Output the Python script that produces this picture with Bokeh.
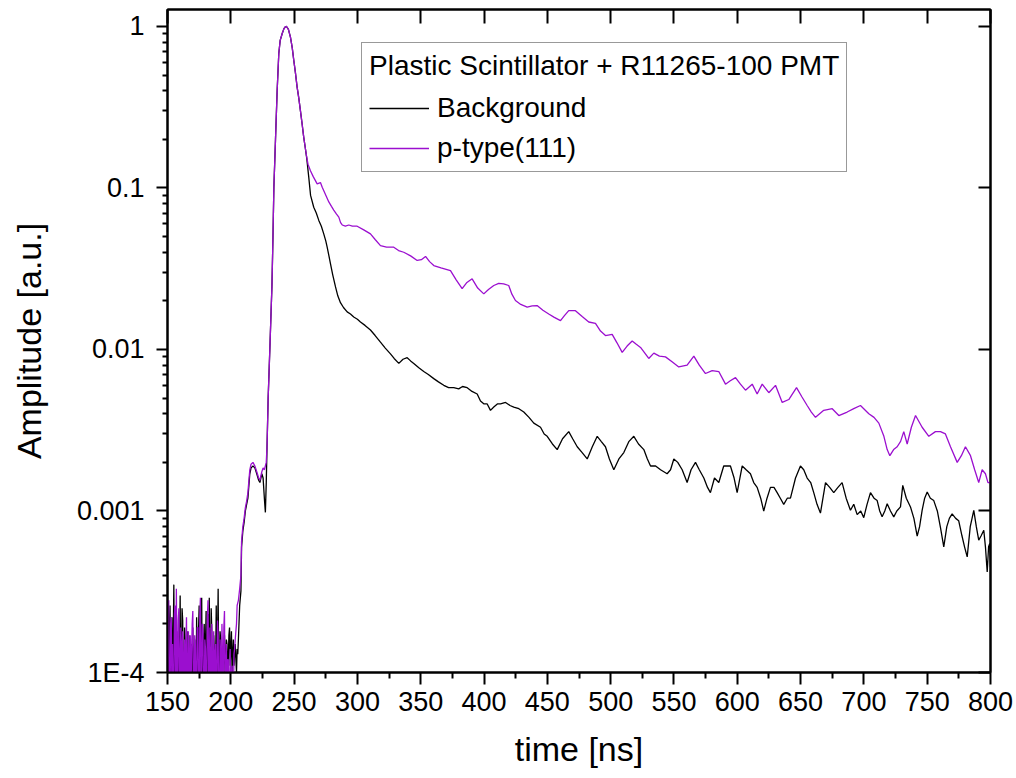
from bokeh.plotting import figure
from bokeh.models import (Range1d, FixedTicker, LinearAxis, LogAxis, Legend,
                          LegendItem, CustomJSTickFormatter)
from bokeh.embed import file_html
from bokeh.resources import INLINE

# ---------------- data ----------------
# pre-trigger noise, one sample every 0.5 ns, 150.0..205.5 ns
noise_t = [150 + 0.5 * i for i in range(112)]
bg_noise = [2.0e-4, 0.6e-4, 0.7e-4, 1.9e-4, 2.6e-4, 0.8e-4, 1.1e-4, 2.2e-4, 0.6e-4, 1.5e-4,
            3.5e-4, 0.9e-4, 0.8e-4, 2.0e-4, 2.4e-4, 0.6e-4, 1.2e-4, 1.8e-4, 0.5e-4, 1.4e-4,
            3.0e-4, 0.7e-4, 1.0e-4, 2.5e-4, 2.1e-4, 0.5e-4, 0.6e-4, 1.9e-4, 1.6e-4, 0.8e-4,
            1.3e-4, 1.8e-4, 0.7e-4, 1.2e-4, 1.7e-4, 0.6e-4, 1.1e-4, 1.5e-4, 0.8e-4, 1.3e-4,
            1.9e-4, 0.7e-4, 1.2e-4, 1.6e-4, 0.9e-4, 0.6e-4, 2.2e-4, 1.0e-4, 0.6e-4, 1.8e-4,
            2.6e-4, 0.8e-4, 1.4e-4, 2.1e-4, 2.9e-4, 0.7e-4, 0.7e-4, 1.6e-4, 2.0e-4, 0.9e-4,
            1.5e-4, 2.4e-4, 0.5e-4, 1.2e-4, 2.3e-4, 1.1e-4, 2.9e-4, 0.6e-4, 0.9e-4, 2.5e-4,
            1.8e-4, 0.7e-4, 0.6e-4, 1.7e-4, 1.4e-4, 0.6e-4, 1.1e-4, 2.6e-4, 0.7e-4, 1.5e-4,
            3.3e-4, 0.8e-4, 1.0e-4, 1.8e-4, 1.6e-4, 0.7e-4, 0.8e-4, 1.4e-4, 1.3e-4, 0.9e-4,
            1.7e-4, 1.2e-4, 1.1e-4, 1.6e-4, 1.5e-4, 1.0e-4, 1.2e-4, 1.7e-4, 1.9e-4, 1.1e-4,
            1.4e-4, 1.8e-4, 1.0e-4, 1.3e-4, 1.6e-4, 1.1e-4, 1.3e-4, 1.5e-4, 1.2e-4, 1.0e-4,
            1.4e-4, 1.3e-4]
pt_noise = [0.8e-4, 2.4e-4, 2.8e-4, 0.6e-4, 0.6e-4, 2.0e-4, 2.2e-4, 0.7e-4, 1.5e-4, 0.6e-4,
            0.7e-4, 2.3e-4, 2.6e-4, 0.8e-4, 3.3e-4, 1.0e-4, 0.9e-4, 2.1e-4, 2.5e-4, 0.6e-4,
            1.1e-4, 1.9e-4, 0.6e-4, 1.5e-4, 1.8e-4, 0.7e-4, 1.2e-4, 1.6e-4, 0.7e-4, 1.4e-4,
            2.2e-4, 0.6e-4, 1.0e-4, 1.8e-4, 0.6e-4, 1.3e-4, 1.7e-4, 0.7e-4, 1.3e-4, 2.0e-4,
            2.4e-4, 0.6e-4, 0.7e-4, 1.7e-4, 1.5e-4, 0.6e-4, 0.9e-4, 1.9e-4, 1.9e-4, 0.7e-4,
            0.6e-4, 2.2e-4, 2.9e-4, 0.8e-4, 1.1e-4, 2.0e-4, 1.8e-4, 0.6e-4, 0.7e-4, 1.6e-4,
            1.4e-4, 0.7e-4, 0.9e-4, 2.2e-4, 2.8e-4, 0.9e-4, 1.2e-4, 1.9e-4, 0.6e-4, 1.2e-4,
            2.0e-4, 0.6e-4, 1.1e-4, 1.8e-4, 0.7e-4, 1.3e-4, 1.5e-4, 0.6e-4, 0.9e-4, 2.1e-4,
            1.7e-4, 0.6e-4, 0.6e-4, 1.6e-4, 1.3e-4, 0.7e-4, 2.0e-4, 1.2e-4, 0.8e-4, 1.9e-4,
            2.4e-4, 0.7e-4, 1.0e-4, 1.5e-4, 0.6e-4, 1.2e-4, 1.2e-4, 0.6e-4, 0.7e-4, 1.4e-4,
            0.5e-4, 1.0e-4, 1.1e-4, 0.6e-4, 0.6e-4, 1.3e-4, 1.4e-4, 1.6e-4, 1.8e-4, 2.0e-4,
            2.6e-4, 2.7e-4]

# onset and small pre-pulse
rise_t = [206, 207, 208, 208.5, 209.5, 210.5, 211.5, 212.5, 213.5, 215,
          216, 217.5, 219, 220.5, 222, 223, 224.5, 225.5, 226.5, 227.3,
          228, 228.6]
bg_rise = [1.6e-4, 2.6e-4, 3.2e-4, 6.0e-4, 7.5e-4, 8.5e-4, 1.0e-3, 1.1e-3, 1.2e-3, 1.7e-3,
           1.85e-3, 1.9e-3, 1.85e-3, 1.7e-3, 1.55e-3, 1.5e-3, 1.7e-3, 1.6e-3, 1.2e-3, 0.98e-3,
           1.5e-3, 2.5e-3]
pt_rise = [2.8e-4, 3.3e-4, 4.0e-4, 6.5e-4, 8.0e-4, 9.0e-4, 1.05e-3, 1.15e-3, 1.3e-3, 1.8e-3,
           1.95e-3, 2.0e-3, 1.9e-3, 1.75e-3, 1.6e-3, 1.55e-3, 1.75e-3, 1.85e-3, 1.8e-3, 1.9e-3,
           2.0e-3, 2.5e-3]

# main pulse (both traces coincide)
peak_t = [229.5, 231, 232.5, 233.3, 234, 235.3, 236.6, 237.9, 239, 240.6,
          242, 243, 244, 245.5, 247.1, 248.5, 249.7, 251, 252.4, 253.7,
          255, 256.3, 257.6, 258.7]
peak_amp = [0.005, 0.011, 0.025, 0.05, 0.1, 0.2, 0.40, 0.68, 0.82, 0.905,
            0.97, 0.995, 1.0, 0.96, 0.86, 0.74, 0.62, 0.52, 0.42, 0.36,
            0.30, 0.25, 0.206, 0.18]

# Background tail
bg_tail_t = [260.0, 261.5, 263.0, 265.5, 267.5, 269.5, 271.5, 273.4, 275.0, 276.1,
             277.5, 278.7, 280.5, 282.7, 284.5, 286.6, 289.0, 291.9, 294.5, 297.1,
             300.0, 302.4, 306.0, 310.3, 314.0, 318.2, 322.0, 326.1, 329.0, 332.7,
             336.0, 339.3, 342.0, 344.5, 348.5, 352.4, 356.0, 360.3, 364.0, 368.2,
             372.0, 376.1, 380.0, 383.0, 386.7, 390.5, 394.6, 397.2, 400.0, 402.5,
             405.1, 407.7, 410.5, 413.0, 417.0, 420.5, 423.5, 427.5, 431.4, 435.5,
             439.3, 444.6, 447.5, 449.9, 454.0, 457.8, 462.0, 466.9, 470.0, 473.6,
             477.5, 481.5, 485.5, 489.4, 492.5, 495.9, 499.0, 502.5, 506.5, 510.4,
             514.5, 518.3, 522.0, 526.2, 529.0, 531.5, 535.5, 539.4, 544.6, 547.3,
             549.9, 553.0, 556.5, 560.4, 563.5, 567.0, 570.0, 573.6, 576.5, 578.8,
             582.0, 585.4, 589.3, 594.6, 597.5, 599.9, 603.9, 607.0, 610.4, 613.0,
             615.7, 618.5, 620.9, 623.5, 626.2, 629.0, 631.5, 634.0, 636.7, 639.5,
             642.0, 646.0, 649.9, 652.5, 655.2, 658.0, 660.4, 663.0, 665.7, 669.7,
             673.0, 676.2, 679.5, 682.8, 686.0, 689.4, 692.0, 694.7, 697.5, 699.9,
             702.5, 705.2, 708.0, 710.5, 712.5, 714.4, 716.5, 718.4, 721.0, 723.6,
             726.0, 728.9, 730.7, 733.5, 736.8, 739.5, 742.1, 744.0, 746.0, 748.0,
             750.0, 752.5, 755.2, 758.0, 760.5, 763.1, 765.5, 767.5, 769.7, 772.5,
             774.9, 777.5, 779.5, 781.6, 784.0, 786.8, 788.8, 790.7, 792.5, 794.7,
             796.0, 797.4, 798.5, 799.4, 800.0]
bg_tail = [0.152, 0.118, 0.090, 0.076, 0.070, 0.063, 0.058, 0.052, 0.047, 0.043,
           0.038, 0.034, 0.029, 0.0244, 0.0215, 0.0195, 0.0182, 0.0171, 0.0166, 0.0159,
           0.0154, 0.0148, 0.0141, 0.0132, 0.0122, 0.0111, 0.0102, 0.0094, 0.0088, 0.0082,
           0.0087, 0.0089, 0.0085, 0.0082, 0.0077, 0.0073, 0.0070, 0.0066, 0.0063, 0.0060,
           0.0058, 0.0058, 0.0057, 0.0059, 0.0058, 0.0055, 0.0053, 0.0048, 0.0046, 0.0046,
           0.0042, 0.0044, 0.0046, 0.0046, 0.0047, 0.0045, 0.0044, 0.0043, 0.0041, 0.0038,
           0.0035, 0.0033, 0.0030, 0.0029, 0.0026, 0.0024, 0.0028, 0.0031, 0.0028, 0.0025,
           0.0023, 0.0021, 0.0025, 0.0029, 0.0027, 0.0025, 0.0021, 0.0018, 0.0021, 0.0023,
           0.0027, 0.0029, 0.0026, 0.0024, 0.0021, 0.0019, 0.0019, 0.0018, 0.0017, 0.0018,
           0.0021, 0.0020, 0.0018, 0.0015, 0.0018, 0.0020, 0.0018, 0.0016, 0.0014, 0.0013,
           0.0016, 0.0015, 0.0019, 0.0019, 0.0016, 0.0013, 0.0019, 0.0018, 0.0017, 0.0015,
           0.0014, 0.0012, 0.0010, 0.0012, 0.0014, 0.0014, 0.0013, 0.0012, 0.0011, 0.0012,
           0.0012, 0.0016, 0.0019, 0.0018, 0.0016, 0.0015, 0.0013, 0.0011, 0.00097, 0.0015,
           0.0014, 0.0013, 0.0014, 0.0015, 0.0012, 0.00101, 0.0011, 0.00095, 0.0010, 0.00091,
           0.0011, 0.0013, 0.0012, 0.00116, 0.0010, 0.00092, 0.0010, 0.00111, 0.0010, 0.00092,
           0.0010, 0.00106, 0.00144, 0.0012, 0.00106, 0.0009, 0.00070, 0.0008, 0.00101, 0.0012,
           0.00131, 0.0012, 0.00116, 0.0010, 0.00079, 0.00060, 0.0008, 0.0009, 0.00096, 0.0009,
           0.00087, 0.0007, 0.0006, 0.00052, 0.0008, 0.00101, 0.0008, 0.00066, 0.0007, 0.00076,
           0.0006, 0.00042, 0.0006, 0.00063, 0.00045]

# p-type(111) tail
pt_tail_t = [259.8, 261.0, 262.9, 265.0, 268.2, 270.8, 272.2, 274.5, 277.4, 279.5,
             281.3, 283.5, 285.3, 286.7, 288.0, 290.5, 293.2, 296.0, 299.8, 305.0,
             310.3, 314.0, 318.2, 323.0, 328.7, 332.5, 336.6, 342.0, 347.2, 350.5,
             353.8, 357.0, 360.3, 366.0, 373.5, 378.0, 382.7, 386.5, 390.6, 395.0,
             399.8, 403.5, 407.7, 411.6, 415.5, 419.5, 422.0, 424.8, 429.0, 434.1,
             438.0, 441.9, 446.5, 451.1, 455.5, 460.4, 463.5, 466.9, 472.2, 477.5,
             482.7, 488.0, 492.0, 495.9, 501.2, 505.0, 509.1, 513.0, 517.0, 520.0,
             523.6, 527.0, 530.1, 534.1, 538.5, 543.3, 548.5, 553.8, 560.4, 565.7,
             570.0, 574.9, 580.2, 585.4, 590.7, 594.5, 598.6, 602.5, 606.5, 611.8,
             615.7, 619.7, 624.9, 630.2, 635.5, 640.7, 646.8, 651.0, 655.2, 658.5,
             661.8, 668.3, 675.0, 680.2, 686.8, 692.0, 697.3, 703.9, 708.0, 711.8,
             715.8, 718.4, 720.5, 723.5, 726.3, 729.0, 731.5, 734.2, 737.5, 740.8,
             746.0, 751.3, 756.5, 760.5, 764.4, 768.4, 773.7, 777.0, 780.2, 784.2,
             787.5, 790.7, 793.4, 796.0, 798.0, 800.0]
pt_tail = [0.158, 0.140, 0.128, 0.118, 0.106, 0.108, 0.101, 0.092, 0.082, 0.077,
           0.073, 0.069, 0.066, 0.061, 0.059, 0.058, 0.059, 0.058, 0.058, 0.055,
           0.052, 0.048, 0.044, 0.043, 0.043, 0.041, 0.040, 0.038, 0.0356, 0.036,
           0.0377, 0.035, 0.0331, 0.032, 0.0308, 0.027, 0.0238, 0.026, 0.0274, 0.024,
           0.0221, 0.0235, 0.0249, 0.0257, 0.0255, 0.0249, 0.022, 0.0201, 0.019, 0.0183,
           0.0186, 0.0187, 0.0175, 0.0166, 0.0158, 0.0151, 0.0162, 0.0174, 0.0174, 0.016,
           0.0148, 0.0145, 0.013, 0.0122, 0.0124, 0.011, 0.0096, 0.0105, 0.0113, 0.0108,
           0.0103, 0.0095, 0.0088, 0.0095, 0.0091, 0.0090, 0.0084, 0.0078, 0.0080, 0.0091,
           0.0080, 0.0071, 0.0074, 0.0073, 0.0061, 0.0064, 0.0067, 0.0061, 0.0056, 0.0061,
           0.0053, 0.0061, 0.0054, 0.0060, 0.0047, 0.0049, 0.0058, 0.0051, 0.0045, 0.0041,
           0.0038, 0.0042, 0.0043, 0.0039, 0.0041, 0.0043, 0.0045, 0.0040, 0.0038, 0.0035,
           0.0029, 0.0024, 0.0022, 0.0024, 0.0025, 0.0027, 0.0031, 0.0026, 0.0033, 0.0039,
           0.0033, 0.0029, 0.0031, 0.0031, 0.0030, 0.0025, 0.0020, 0.0022, 0.0025, 0.0022,
           0.0018, 0.0015, 0.0018, 0.0017, 0.0015, 0.0015]

x_major = list(range(150, 801, 50))
x_minor = list(range(175, 800, 50))
y_major = [1e-4, 1e-3, 1e-2, 1e-1, 1.0]
y_minor = [k * d for d in (1e-4, 1e-3, 1e-2, 1e-1) for k in range(2, 10)]

legend_title = "Plastic Scintillator + R11265-100 PMT"
series_names = ["Background", "p-type(111)"]
series_colors = ["#000000", "#9b0fcf"]

# ---------------- assemble series ----------------
bg_t = noise_t + rise_t + peak_t + bg_tail_t
bg_y = bg_noise + bg_rise + peak_amp + bg_tail
pt_t = noise_t + rise_t + peak_t + pt_tail_t
pt_y = pt_noise + pt_rise + peak_amp + pt_tail

FONT = "Liberation Sans"

p = figure(frame_width=823, frame_height=663, y_axis_type="log",
           x_range=Range1d(150, 800), y_range=Range1d(1e-4, 1.274),
           output_backend="svg", toolbar_location=None,
           min_border_left=167, min_border_right=26, min_border_top=9,
           min_border_bottom=106)
p.background_fill_color = "white"
p.border_fill_color = "white"
p.grid.visible = False
p.outline_line_color = "black"
p.outline_line_width = 2

r_bg = p.line(bg_t, bg_y, line_color=series_colors[0], line_width=1.3)
r_pt = p.line(pt_t, pt_y, line_color=series_colors[1], line_width=1.3)

# bottom / left axes
xa = p.xaxis[0]
xa.ticker = FixedTicker(ticks=x_major, minor_ticks=x_minor)
xa.axis_label = "time [ns]"
ya = p.yaxis[0]
ya.ticker = FixedTicker(ticks=y_major, minor_ticks=y_minor)
ya.formatter = CustomJSTickFormatter(code="""
const e = Math.round(Math.log10(tick));
if (e == 0) return '1';
if (e <= -4) return '1E' + e;
return Math.pow(10, e).toFixed(-e);
""")
ya.axis_label = "Amplitude [a.u.]"

for ax in (xa, ya):
    ax.axis_line_width = 2
    ax.axis_line_color = "black"
    ax.major_tick_line_width = 2
    ax.minor_tick_line_width = 2
    ax.major_tick_line_color = "black"
    ax.minor_tick_line_color = "black"
    ax.major_tick_in = 0
    ax.minor_tick_in = 0
    ax.major_label_text_font = FONT
    ax.major_label_text_font_size = "27px"
    ax.major_label_text_color = "black"
    ax.axis_label_text_font = FONT
    ax.axis_label_text_font_size = "34px"
    ax.axis_label_text_font_style = "normal"
    ax.axis_label_text_color = "black"
xa.major_tick_out = 12
xa.minor_tick_out = 6
xa.major_label_standoff = 7
xa.axis_label_standoff = 16
ya.major_tick_out = 11
ya.minor_tick_out = 5
ya.major_label_standoff = 12
ya.axis_label_standoff = 26

# top / right axes: inward major ticks only
blank = CustomJSTickFormatter(code="return '';")
top = LinearAxis(ticker=FixedTicker(ticks=x_major, minor_ticks=[]), formatter=blank,
                 major_tick_in=14, major_tick_out=0, minor_tick_in=0, minor_tick_out=0,
                 major_label_standoff=0, axis_line_width=2, major_tick_line_width=2,
                 major_label_text_font_size="1px")
right = LogAxis(ticker=FixedTicker(ticks=y_major, minor_ticks=[]), formatter=blank,
                major_tick_in=12, major_tick_out=0, minor_tick_in=0, minor_tick_out=0,
                major_label_standoff=0, axis_line_width=2, major_tick_line_width=2,
                major_label_text_font_size="1px")
p.add_layout(top, "above")
p.add_layout(right, "right")

legend = Legend(items=[LegendItem(label=series_names[0], renderers=[r_bg]),
                       LegendItem(label=series_names[1], renderers=[r_pt])],
                location=(194, 500), title=legend_title,
                title_text_font=FONT, title_text_font_size="28px",
                title_text_font_style="normal", title_text_color="black",
                title_standoff=10,
                label_text_font=FONT, label_text_font_size="28px",
                label_text_color="black",
                glyph_width=60, glyph_height=30, label_height=30,
                label_standoff=8, spacing=8, padding=7, margin=0,
                border_line_color="#333333", border_line_width=1.5,
                background_fill_color="white", background_fill_alpha=1.0)
p.add_layout(legend)

open("out.html", "w").write(file_html(p, INLINE))
